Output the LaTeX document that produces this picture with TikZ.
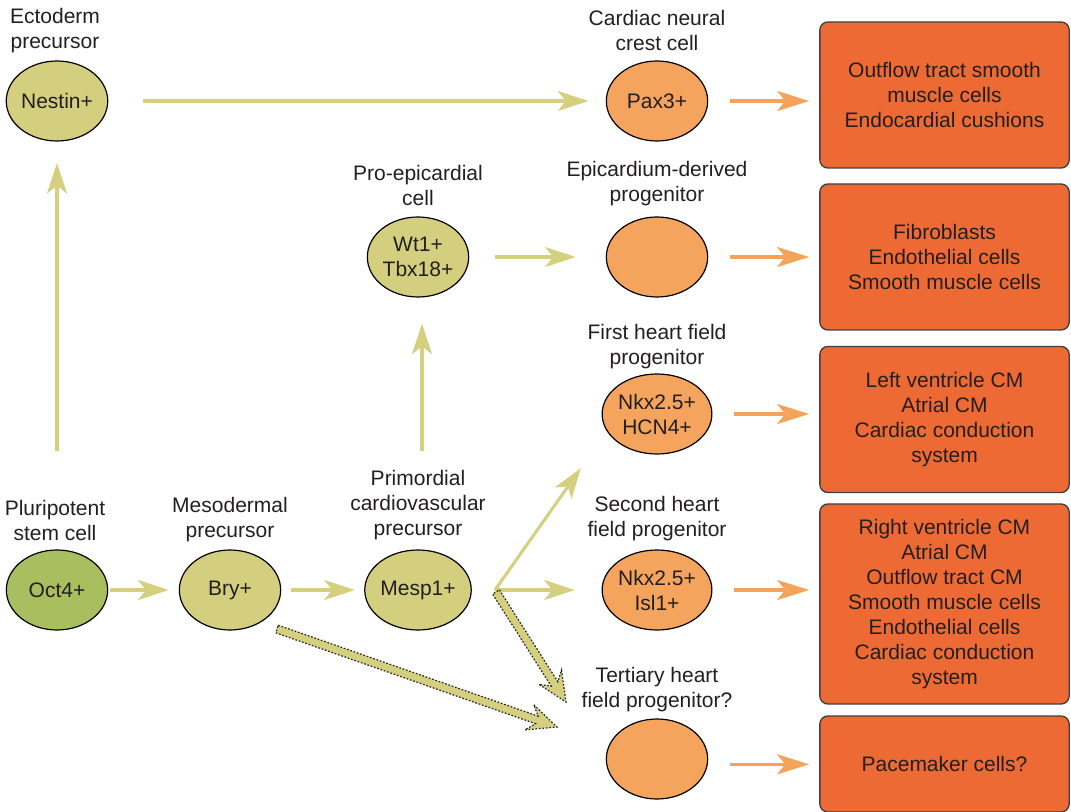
\documentclass[tikz,border=0pt]{standalone}
\usepackage{fontspec}
\setmainfont{Liberation Sans}
\usetikzlibrary{arrows.meta,calc,shapes.geometric}
\definecolor{txt}{HTML}{231F20}
\definecolor{ayel}{HTML}{D4D07F}
\definecolor{cyel}{HTML}{D4CF7E}
\definecolor{cgrn}{HTML}{A9BE5F}
\definecolor{corg}{HTML}{F4A45D}
\definecolor{cbox}{HTML}{EE6A35}
\definecolor{aorg}{HTML}{F5A35B}
\tikzset{
  cell/.style={ellipse, draw=black, line width=0.9pt, minimum width=76pt, minimum height=60pt, inner sep=0pt, align=center, text=txt},
  ycell/.style={cell, fill=cyel},
  gcell/.style={cell, fill=cgrn},
  ocell/.style={cell, fill=corg},
  lab/.style={align=center, text=txt, inner sep=0pt},
  fate/.style={draw=black!75, line width=1pt, fill=cbox, rounded corners=6pt, minimum width=187pt, align=center, text=txt, inner sep=0pt},
  yarr/.style={draw=ayel, line width=2.3pt, -{Stealth[length=23pt,width=15pt,inset=6pt]}},
  oarr/.style={draw=aorg, line width=2.3pt, -{Stealth[length=24pt,width=15pt,inset=6pt]}},
  dotarr/.style={draw=black!85, fill=ayel, line width=0.9pt, dash pattern=on 1.3pt off 1.3pt, line join=miter}
}
\newcommand{\hollowarrow}[2]{%
  \coordinate (ha-H) at ($(#2)!22pt!(#1)$);
  \coordinate (ha-N) at ($(#2)!16pt!(#1)$);
  \filldraw[dotarr] ($(#1)!3pt!90:(#2)$) -- ($(ha-N)!3pt!-90:(#1)$) -- ($(ha-H)!10pt!-90:(#1)$) -- (#2) -- ($(ha-H)!10pt!90:(#1)$) -- ($(ha-N)!3pt!90:(#1)$) -- ($(#1)!3pt!-90:(#2)$) -- cycle;}
\begin{document}
\begin{tikzpicture}[x=0.75pt,y=-0.75pt,font=\fontsize{15.75}{18.75}\selectfont]
\useasboundingbox (0,0) rectangle (1071,812);
% labels
\node[lab] (lecto) at (55,31) {Ectoderm\\precursor};
\node[lab] (lcnc) at (657,31) {Cardiac neural\\crest cell};
\node[lab] (lpro) at (418,185) {Pro-epicardial\\cell};
\node[lab] (lepi) at (657,184) {Epicardium-derived\\progenitor};
\node[lab] (lfhf) at (657,347) {First heart field\\progenitor};
\node[lab] (lplu) at (55,520) {Pluripotent\\stem cell};
\node[lab] (lmes) at (230,520) {Mesodermal\\precursor};
\node[lab] (lpri) at (418,505) {Primordial\\cardiovascular\\precursor};
\node[lab] (lshf) at (657,519) {Second heart\\field progenitor};
\node[lab] (lthf) at (657,690) {Tertiary heart\\field progenitor?};
% cells
\node[ycell] (nestin) at (57,101) {Nestin+};
\node[ocell] (pax3) at (657,101) {Pax3+};
\node[ycell] (wt1) at (418,257) {Wt1+\\Tbx18+};
\node[ocell] (epi) at (657,257) {};
\node[ocell] (fhf) at (657,414) {Nkx2.5+\\HCN4+};
\node[gcell] (oct4) at (57,590) {Oct4+};
\node[ycell] (bry) at (230,590) {Bry+};
\node[ycell] (mesp1) at (418,590) {Mesp1+};
\node[ocell] (shf) at (657,590) {Nkx2.5+\\Isl1+};
\node[ocell] (thf) at (657,759) {};
% fate boxes
\node[fate, minimum height=109.5pt] (b1) at (944.5,95) {Outflow tract smooth\\muscle cells\\Endocardial cushions};
\node[fate, minimum height=109.5pt] (b2) at (944.5,257) {Fibroblasts\\Endothelial cells\\Smooth muscle cells};
\node[fate, minimum height=109.5pt] (b3) at (944.5,419.5) {Left ventricle CM\\Atrial CM\\Cardiac conduction\\system};
\node[fate, minimum height=150pt] (b4) at (944.5,604) {Right ventricle CM\\Atrial CM\\Outflow tract CM\\Smooth muscle cells\\Endothelial cells\\Cardiac conduction\\system};
\node[fate, minimum height=72pt] (b5) at (944.5,764) {Pacemaker cells?};
% yellow arrows
\draw[yarr, shorten <=26pt, shorten >=13pt] (nestin.east) -- (nestin.east -| pax3.west);
\draw[yarr, shorten <=73.5pt, shorten >=16pt] (oct4.north) -- (nestin.south);
\draw[yarr, shorten <=1.5pt, shorten >=7.5pt] (oct4) -- (bry);
\draw[yarr, shorten <=7pt, shorten >=7pt] (bry) -- (mesp1);
\draw[yarr, shorten <=73.5pt, shorten >=19.5pt] ([xshift=3pt]mesp1.north) -- ([xshift=3pt]wt1.south);
\draw[yarr, shorten <=19.5pt, shorten >=22.5pt] (wt1) -- (epi);
\coordinate (br) at (495,590);
\coordinate (fhfend) at (581,468);
\draw[yarr] (br) -- (fhfend);
\draw[yarr, shorten >=20pt] (br) -- (shf.west);
% dotted hollow arrows
\coordinate (brd) at (496,592);
\coordinate (thf1) at (566,702);
\coordinate (brys) at (277,629);
\coordinate (thf2) at (557,727);
\hollowarrow{brd}{thf1}
\hollowarrow{brys}{thf2}
% orange arrows
\draw[oarr, shorten <=16.5pt, shorten >=7.5pt] (pax3.east) -- (pax3.east -| b1.west);
\draw[oarr, shorten <=16.5pt, shorten >=7.5pt] (epi.east) -- (epi.east -| b2.west);
\draw[oarr, shorten <=16.5pt, shorten >=7.5pt] (fhf.east) -- (fhf.east -| b3.west);
\draw[oarr, shorten <=16.5pt, shorten >=7.5pt] (shf.east) -- (shf.east -| b4.west);
\draw[oarr, shorten <=16.5pt, shorten >=7.5pt] ([yshift=-4pt]thf.east) -- ([yshift=-4pt]thf.east -| b5.west);
\end{tikzpicture}
\end{document}
